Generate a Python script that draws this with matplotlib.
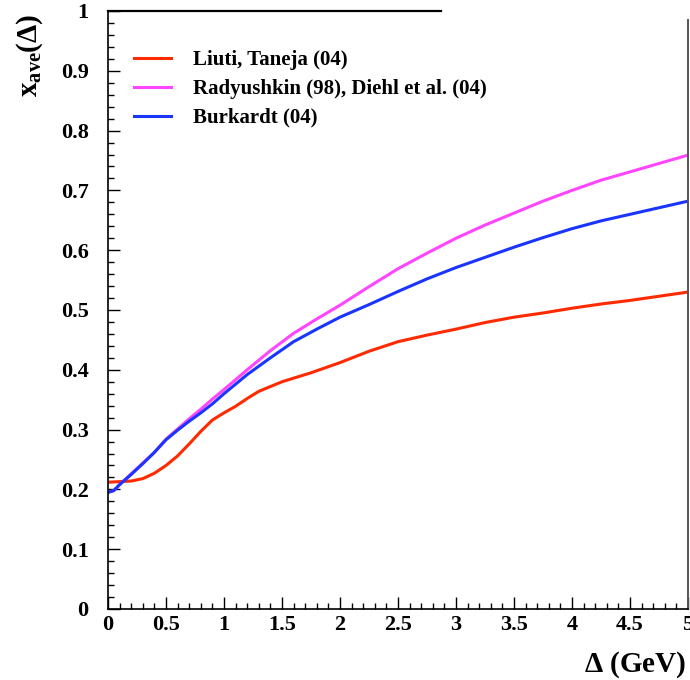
import matplotlib
matplotlib.use("Agg")
import matplotlib.pyplot as plt
from matplotlib.ticker import MultipleLocator

plt.rcParams['font.family'] = ['Liberation Serif', 'DejaVu Serif']
plt.rcParams['font.weight'] = 'bold'
plt.rcParams['mathtext.fontset'] = 'custom'
plt.rcParams['mathtext.rm'] = 'Liberation Serif:bold'
plt.rcParams['mathtext.it'] = 'Liberation Serif:bold'
plt.rcParams['mathtext.bf'] = 'Liberation Serif:bold'

# Liuti, Taneja (04)
x_red = [0, 0.1, 0.2, 0.3, 0.4, 0.5, 0.6, 0.7, 0.8, 0.9, 1.0, 1.1, 1.2, 1.3, 1.4, 1.5,
         1.75, 2.0, 2.25, 2.5, 2.75, 3.0, 3.25, 3.5, 3.75, 4.0, 4.25, 4.5, 4.75, 5.0]
y_red = [0.212, 0.213, 0.214, 0.218, 0.227, 0.240, 0.256, 0.276, 0.297, 0.316, 0.328,
         0.339, 0.352, 0.364, 0.372, 0.380, 0.395, 0.412, 0.431, 0.447, 0.458, 0.468,
         0.479, 0.488, 0.495, 0.503, 0.510, 0.516, 0.523, 0.530]

# Radyushkin (98), Diehl et al. (04)
x_mag = [0, 0.05, 0.1, 0.2, 0.3, 0.4, 0.5, 0.6, 0.7, 0.8, 0.9, 1.0, 1.2, 1.4, 1.6, 1.8,
         2.0, 2.25, 2.5, 2.75, 3.0, 3.25, 3.5, 3.75, 4.0, 4.25, 4.5, 4.75, 5.0]
y_mag = [0.195, 0.198, 0.208, 0.226, 0.244, 0.262, 0.284, 0.301, 0.318, 0.334, 0.351,
         0.367, 0.400, 0.432, 0.461, 0.485, 0.508, 0.539, 0.569, 0.595, 0.620, 0.642,
         0.662, 0.682, 0.700, 0.717, 0.731, 0.745, 0.759]

# Burkardt (04)
x_blue = [0, 0.05, 0.1, 0.2, 0.3, 0.4, 0.5, 0.6, 0.7, 0.8, 0.9, 1.0, 1.2, 1.4, 1.6, 1.8,
          2.0, 2.25, 2.5, 2.75, 3.0, 3.25, 3.5, 3.75, 4.0, 4.25, 4.5, 4.75, 5.0]
y_blue = [0.195, 0.198, 0.208, 0.225, 0.243, 0.262, 0.283, 0.299, 0.314, 0.328, 0.343,
          0.360, 0.392, 0.420, 0.447, 0.468, 0.488, 0.509, 0.531, 0.552, 0.571, 0.588,
          0.605, 0.621, 0.636, 0.649, 0.660, 0.671, 0.682]

labels = ['Liuti, Taneja (04)', 'Radyushkin (98), Diehl et al. (04)', 'Burkardt (04)']
colors = ['#ff2a00', '#ff45ff', '#1a35ff']

fig = plt.figure(figsize=(6.9, 6.8), dpi=100)
ax = fig.add_axes([108/690, 71/680, 580/690, 598/680])

ax.plot(x_red, y_red, color=colors[0], lw=2.2, label=labels[0])
ax.plot(x_mag, y_mag, color=colors[1], lw=2.2, label=labels[1])
ax.plot(x_blue, y_blue, color=colors[2], lw=2.2, label=labels[2])

ax.set_xlim(0, 5)
ax.set_ylim(0, 1)

for s in ['top', 'right']:
    ax.spines[s].set_visible(False)
for s in ['left', 'bottom']:
    ax.spines[s].set_linewidth(1.2)
ax.axhline(1.0, xmin=0, xmax=0.574, color='black', lw=1.6, clip_on=False)
ax.axvline(5.0, ymin=0, ymax=0.985, color='#555555', lw=1.4, clip_on=False)

ax.xaxis.set_major_locator(MultipleLocator(0.5))
ax.xaxis.set_minor_locator(MultipleLocator(0.1))
ax.yaxis.set_major_locator(MultipleLocator(0.1))
ax.yaxis.set_minor_locator(MultipleLocator(0.02))
ax.xaxis.set_major_formatter(plt.FuncFormatter(lambda v, p: ('%g' % v)))
ax.yaxis.set_major_formatter(plt.FuncFormatter(lambda v, p: ('%g' % v)))
ax.tick_params(which='both', direction='in', top=False, right=False, width=1.0)
ax.tick_params(which='major', length=8.5, labelsize=16)
ax.tick_params(axis='y', which='major', pad=14)
ax.tick_params(axis='x', which='major', pad=4)
ax.tick_params(which='minor', length=4.3)
for lab in ax.get_xticklabels() + ax.get_yticklabels():
    lab.set_fontweight('bold')

fig.text(686/690, 1 - 672/680, r'$\Delta$ (GeV)', ha='right', va='baseline',
         fontsize=21, fontweight='bold')
fig.text(30/690, 1 - 55/680, r'$\mathrm{x_{ave}(\Delta)}$', ha='center', va='center',
         rotation=90, fontsize=21)

leg = ax.legend(loc='upper left', bbox_to_anchor=(0.045, 0.934), frameon=False,
                borderpad=0, borderaxespad=0, handlelength=1.75, handletextpad=1.1,
                labelspacing=0.42, prop={'family': 'Liberation Serif', 'weight': 'bold', 'size': 15})

fig.savefig('out.png', dpi=100)
